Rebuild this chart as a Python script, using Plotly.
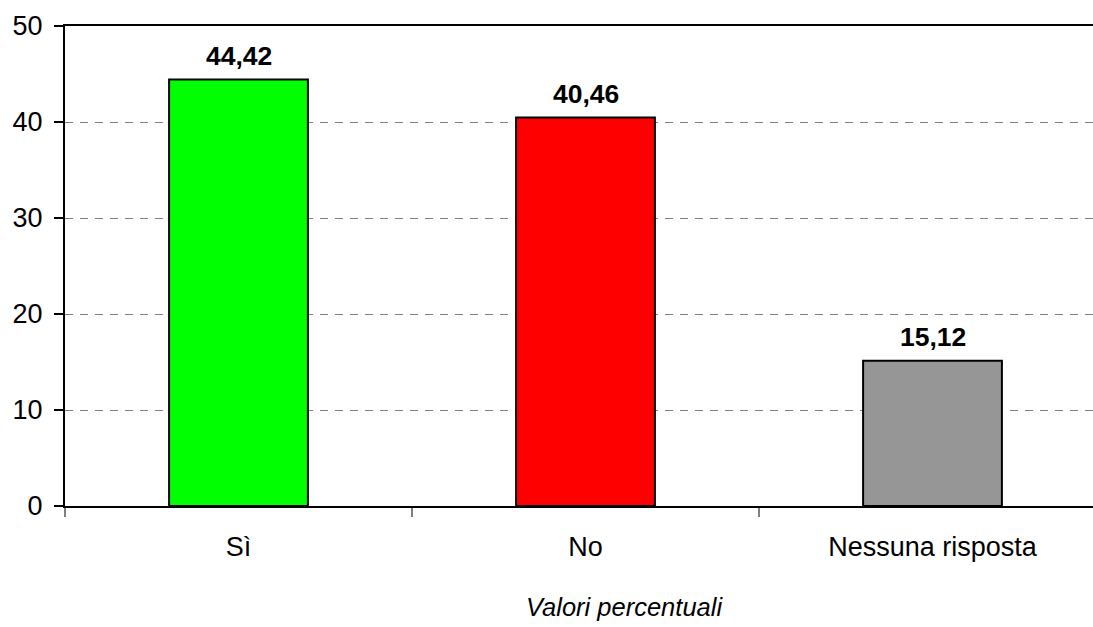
import plotly.graph_objects as go

categories = ["Sì", "No", "Nessuna risposta"]
values = [44.42, 40.46, 15.12]
colors = ["#00FF00", "#FF0000", "#969696"]
y_ticks = [0, 10, 20, 30, 40, 50]
x_title = "Valori percentuali"

FONT = "Liberation Sans, Arial, sans-serif"

W, H = 1093, 627
L, T = 65, 26
plot_h = 480.5
B = H - T - plot_h
R = 0
plot_w = W - L - R
cat_w = 347.0
x_max = -0.5 + plot_w / cat_w

fig = go.Figure()
fig.add_trace(go.Bar(
    x=categories, y=values,
    marker=dict(color=colors, line=dict(color="black", width=2)),
    width=0.4,
    hoverinfo="skip",
))

for c, v in zip(categories, values):
    fig.add_annotation(
        x=c, y=v, xref="x", yref="y",
        text="<b>" + f"{v:.2f}".replace(".", ",") + "</b>",
        showarrow=False, yanchor="bottom", yshift=7,
        font=dict(family=FONT, size=26.5, color="black"),
    )

title_cx, title_cy = 624, 608
fig.add_annotation(
    x=(title_cx - L) / plot_w, y=-(title_cy - (T + plot_h)) / plot_h,
    xref="paper", yref="paper", text="<i>" + x_title + "</i>", showarrow=False,
    font=dict(family=FONT, size=25.5, color="black"),
    xanchor="center", yanchor="middle",
)

fig.update_layout(
    width=W, height=H,
    margin=dict(l=L, r=R, t=T, b=B, pad=0),
    plot_bgcolor="white", paper_bgcolor="white",
    showlegend=False,
    bargap=0.6,
    font=dict(family=FONT, size=27, color="black"),
)
fig.update_xaxes(
    type="category", range=[-0.5, x_max],
    showline=True, linecolor="black", linewidth=2, mirror=True,
    ticks="outside", tickson="boundaries", ticklen=9, tickcolor="#808080", tickwidth=1.5,
    showgrid=False, zeroline=False,
    tickfont=dict(family=FONT, size=27, color="black"),
    ticklabelstandoff=16,
)
fig.update_yaxes(
    range=[0, 50], tickvals=y_ticks,
    showline=True, linecolor="black", linewidth=2,
    ticks="outside", ticklen=9, tickcolor="black", tickwidth=1.5,
    showgrid=True, gridcolor="#808080", gridwidth=1, griddash="8px,7px",
    zeroline=False,
    tickfont=dict(family=FONT, size=27, color="black"),
    ticklabelstandoff=6,
)

fig.write_html(
    "out.html",
    config={"displayModeBar": False, "staticPlot": True},
    post_script="document.body.style.margin='0';document.body.style.overflow='hidden';"
                "document.documentElement.style.overflow='hidden';",
)
